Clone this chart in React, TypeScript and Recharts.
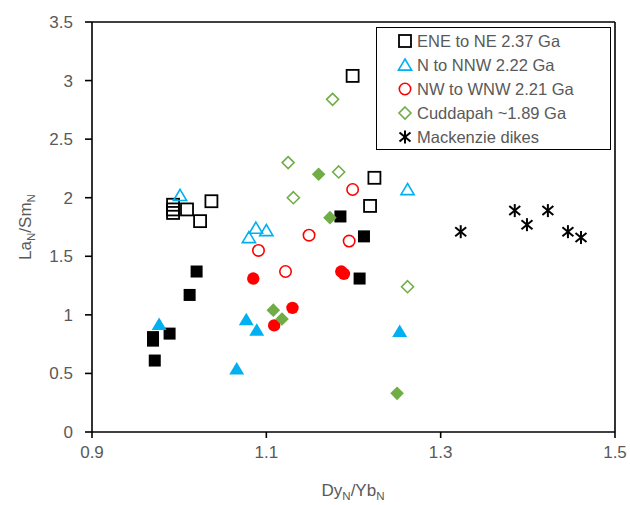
import React from 'react';
import {
  ScatterChart,
  Scatter,
  XAxis,
  YAxis,
  ReferenceLine,
} from 'recharts';

// ENE to NE 2.37 Ga (open and filled squares)
const eneOpen: [number, number][] = [
  [0.993, 1.94], [0.993, 1.9], [0.993, 1.87], [1.009, 1.9], [1.037, 1.97],
  [1.024, 1.8], [1.199, 3.04], [1.224, 2.17], [1.219, 1.93],
];
const eneFilled: [number, number][] = [
  [1.02, 1.37], [1.012, 1.17], [0.97, 0.81], [0.97, 0.78], [0.989, 0.84],
  [0.972, 0.61], [1.185, 1.84], [1.212, 1.67], [1.207, 1.31],
];
// N to NNW 2.22 Ga (triangles)
const nnwOpen: [number, number][] = [
  [1.001, 2.02], [1.08, 1.66], [1.088, 1.74], [1.1, 1.72], [1.262, 2.07],
];
const nnwFilled: [number, number][] = [
  [0.977, 0.92], [1.077, 0.96], [1.089, 0.87], [1.066, 0.54], [1.253, 0.86],
];
// NW to WNW 2.21 Ga (circles)
const wnwOpen: [number, number][] = [
  [1.091, 1.55], [1.122, 1.37], [1.149, 1.68], [1.199, 2.07], [1.195, 1.63],
];
const wnwFilled: [number, number][] = [
  [1.085, 1.31], [1.13, 1.06], [1.109, 0.91], [1.186, 1.37], [1.189, 1.35],
];
// Cuddapah ~1.89 Ga (diamonds)
const cudOpen: [number, number][] = [
  [1.176, 2.84], [1.125, 2.3], [1.183, 2.22], [1.131, 2.0], [1.262, 1.24],
];
const cudFilled: [number, number][] = [
  [1.16, 2.2], [1.173, 1.83], [1.108, 1.04], [1.118, 0.965], [1.25, 0.33],
];
// Mackenzie dikes (asterisks)
const mackenzie: [number, number][] = [
  [1.323, 1.71], [1.385, 1.89], [1.399, 1.77], [1.423, 1.89], [1.446, 1.71], [1.461, 1.66],
];

const xTicks = [0.9, 1.1, 1.3, 1.5];
const yTicks = [0, 0.5, 1, 1.5, 2, 2.5, 3, 3.5];

const BLACK = '#000000';
const BLUE = '#00B0F0';
const RED = '#FF0000';
const GREEN = '#70AD47';
const TEXT = '#595959';
const FONT = '"Liberation Sans", Arial, sans-serif';

const toPoints = (arr: [number, number][]) => arr.map(([x, y]) => ({ x, y }));

type Kind = 'square' | 'triangle' | 'circle' | 'diamond' | 'star';

// Draw one marker centred on (cx, cy)
const marker = (kind: Kind, color: string, filled: boolean, cx: number, cy: number) => {
  const fill = filled ? color : 'none';
  const sw = filled ? 0 : 1.6;
  switch (kind) {
    case 'square':
      return <rect x={cx - 6} y={cy - 6} width={12} height={12} fill={fill} stroke={color} strokeWidth={filled ? 0 : 1.8} />;
    case 'triangle': {
      const h = filled ? 6.8 : 6;
      return (
        <polygon
          points={`${cx},${cy - h} ${cx + h * 1.1},${cy + h * 0.85} ${cx - h * 1.1},${cy + h * 0.85}`}
          fill={fill}
          stroke={color}
          strokeWidth={sw}
        />
      );
    }
    case 'circle':
      return <circle cx={cx} cy={cy} r={filled ? 6.2 : 5.7} fill={fill} stroke={color} strokeWidth={sw} />;
    case 'diamond': {
      const r = filled ? 6.8 : 6;
      return (
        <polygon
          points={`${cx},${cy - r} ${cx + r},${cy} ${cx},${cy + r} ${cx - r},${cy}`}
          fill={fill}
          stroke={color}
          strokeWidth={sw}
        />
      );
    }
    default:
      return (
        <g stroke={color} strokeWidth={2}>
          <line x1={cx} y1={cy - 6.5} x2={cx} y2={cy + 6.5} />
          <line x1={cx - 5.5} y1={cy - 4.5} x2={cx + 5.5} y2={cy + 4.5} />
          <line x1={cx - 5.5} y1={cy + 4.5} x2={cx + 5.5} y2={cy - 4.5} />
        </g>
      );
  }
};

const shapeOf = (kind: Kind, color: string, filled: boolean) => (props: any) =>
  marker(kind, color, filled, props.cx, props.cy);

const legendItems: { label: string; kind: Kind; color: string }[] = [
  { label: 'ENE to NE 2.37 Ga', kind: 'square', color: BLACK },
  { label: 'N to NNW 2.22 Ga', kind: 'triangle', color: BLUE },
  { label: 'NW to WNW 2.21 Ga', kind: 'circle', color: RED },
  { label: 'Cuddapah ~1.89 Ga', kind: 'diamond', color: GREEN },
  { label: 'Mackenzie dikes', kind: 'star', color: BLACK },
];

const YTitle = () => (
  <text
    x={0}
    y={0}
    transform="translate(31, 227) rotate(-90)"
    textAnchor="middle"
    fill={TEXT}
    fontSize={17}
    fontFamily={FONT}
  >
    La<tspan fontSize={11.5} dy={4}>N</tspan>
    <tspan dy={-4}>/Sm</tspan>
    <tspan fontSize={11.5} dy={4}>N</tspan>
  </text>
);

const XTitle = () => (
  <text x={353} y={496} textAnchor="middle" fill={TEXT} fontSize={17} fontFamily={FONT}>
    Dy<tspan fontSize={11.5} dy={4}>N</tspan>
    <tspan dy={-4}>/Yb</tspan>
    <tspan fontSize={11.5} dy={4}>N</tspan>
  </text>
);

export default function App() {
  const series = [
    { data: eneOpen, kind: 'square' as Kind, color: BLACK, filled: false },
    { data: eneFilled, kind: 'square' as Kind, color: BLACK, filled: true },
    { data: nnwOpen, kind: 'triangle' as Kind, color: BLUE, filled: false },
    { data: nnwFilled, kind: 'triangle' as Kind, color: BLUE, filled: true },
    { data: wnwOpen, kind: 'circle' as Kind, color: RED, filled: false },
    { data: wnwFilled, kind: 'circle' as Kind, color: RED, filled: true },
    { data: cudOpen, kind: 'diamond' as Kind, color: GREEN, filled: false },
    { data: cudFilled, kind: 'diamond' as Kind, color: GREEN, filled: true },
    { data: mackenzie, kind: 'star' as Kind, color: BLACK, filled: false },
  ];

  return (
    <div style={{ position: 'absolute', left: 0, top: 0, width: 630, height: 505, background: '#fff' }}>
      <ScatterChart width={630} height={505} margin={{ top: 22, right: 15, bottom: 0, left: 0 }}>
        <XAxis
          type="number"
          dataKey="x"
          domain={[0.9, 1.5]}
          ticks={xTicks}
          tickFormatter={(v: number) => v.toFixed(1)}
          height={73}
          axisLine={{ stroke: BLACK, strokeWidth: 1.6 }}
          tickLine={{ stroke: BLACK, strokeWidth: 1.6 }}
          tickSize={6}
          tickMargin={8}
          tick={{ fill: TEXT, fontSize: 17, fontFamily: FONT }}
          allowDataOverflow
        />
        <YAxis
          type="number"
          dataKey="y"
          domain={[0, 3.5]}
          ticks={yTicks}
          width={92}
          axisLine={{ stroke: BLACK, strokeWidth: 1.6 }}
          tickLine={{ stroke: BLACK, strokeWidth: 1.6 }}
          tickSize={7}
          tickMargin={12}
          tick={{ fill: TEXT, fontSize: 17, fontFamily: FONT }}
          allowDataOverflow
        />
        <ReferenceLine y={3.5} stroke={BLACK} strokeWidth={1.6} />
        <ReferenceLine x={1.5} stroke={BLACK} strokeWidth={1.6} />
        {series.map((s, i) => (
          <Scatter
            key={i}
            data={toPoints(s.data)}
            shape={shapeOf(s.kind, s.color, s.filled)}
            isAnimationActive={false}
          />
        ))}
        <YTitle />
        <XTitle />
      </ScatterChart>
      <div
        style={{
          position: 'absolute',
          left: 376,
          top: 27,
          width: 235,
          height: 123,
          border: `1.6px solid ${BLACK}`,
          background: '#fff',
          fontFamily: FONT,
          fontSize: 16.5,
          color: TEXT,
          boxSizing: 'border-box',
          paddingTop: 1,
        }}
      >
        {legendItems.map((it) => (
          <div key={it.label} style={{ display: 'flex', alignItems: 'center', height: 24, paddingLeft: 20 }}>
            <svg width={16} height={16} style={{ marginRight: 4 }}>
              {marker(it.kind, it.color, false, 8, 8)}
            </svg>
            <span>{it.label}</span>
          </div>
        ))}
      </div>
    </div>
  );
}
